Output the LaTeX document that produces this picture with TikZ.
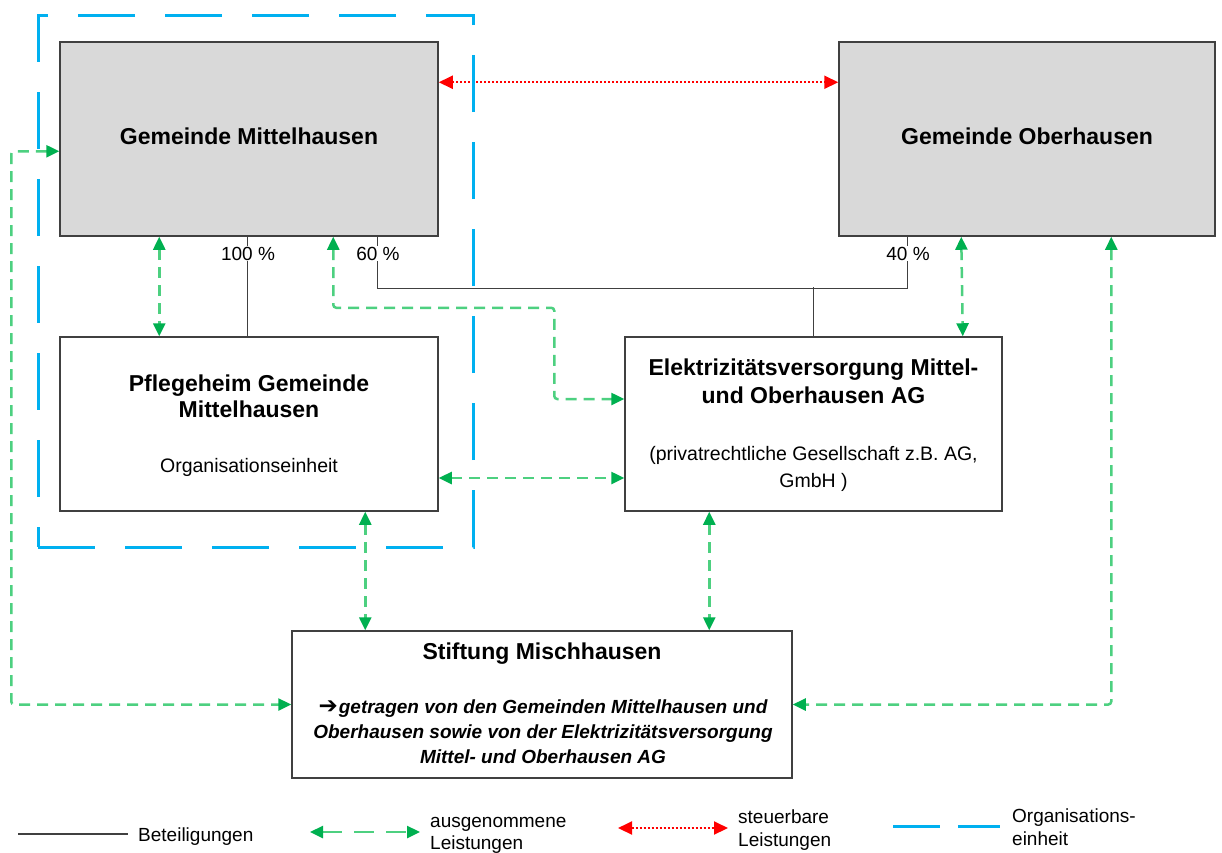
\documentclass[tikz,border=0pt]{standalone}
\usepackage{fontspec}
\setmainfont{Liberation Sans}
\newfontfamily\djv{DejaVu Sans}
\usetikzlibrary{arrows.meta}
\definecolor{boxgray}{HTML}{D9D9D9}
\definecolor{edgegray}{HTML}{404040}
\definecolor{lgreen}{HTML}{4DD080}
\definecolor{dgreen}{HTML}{00B050}
\definecolor{oblue}{HTML}{00B0F0}
\begin{document}
\begin{tikzpicture}[x=1pt,y=-1pt,
 box/.style={draw=edgegray, line width=1.5pt, inner sep=0pt, rectangle},
 gbox/.style={box, fill=boxgray},
 bt/.style={font=\fontsize{23}{28}\selectfont\bfseries, anchor=base, inner sep=0pt},
 rt/.style={font=\fontsize{19.5}{24}\selectfont, anchor=base, inner sep=0pt},
 it/.style={font=\fontsize{19}{24}\selectfont\bfseries\itshape, anchor=base, inner sep=0pt},
 pt/.style={font=\fontsize{19}{24}\selectfont, anchor=base, inner sep=1pt, fill=white},
 lt/.style={font=\fontsize{19}{23}\selectfont, anchor=base west, inner sep=0pt},
 own/.style={line width=1.3pt, draw=edgegray},
 excl/.style={draw=lgreen, line width=2.5pt, dash pattern=on 11pt off 7pt, rounded corners=3pt,
   {Triangle[length=13pt,width=12pt,color=dgreen]}-{Triangle[length=13pt,width=12pt,color=dgreen]}},
 tax/.style={draw=red, line width=2pt, dash pattern=on 2pt off 2pt,
   {Triangle[length=14pt,width=13pt]}-{Triangle[length=14pt,width=13pt]}},
 org/.style={draw=oblue, line width=3pt, dash pattern=on 57pt off 30pt},
]
\useasboundingbox[fill=white] (0,0) rectangle (1222,852);

% boxes
\node[gbox, minimum width=378pt, minimum height=194pt] (mh) at (249,139) {};
\node[gbox, minimum width=376pt, minimum height=194pt] (oh) at (1027,139) {};
\node[box, minimum width=378pt, minimum height=174pt] (pf) at (249,424) {};
\node[box, minimum width=377pt, minimum height=174pt] (ev) at (813.5,424) {};
\node[box, minimum width=500pt, minimum height=147pt] (st) at (542,704.5) {};

% texts
\node[bt] (mhT) at (249,144) {Gemeinde Mittelhausen};
\node[bt] (ohT) at (1027,144) {Gemeinde Oberhausen};
\node[bt] (pfT1) at (249,391) {Pflegeheim Gemeinde};
\node[bt] (pfT2) at (249,417) {Mittelhausen};
\node[rt] (pfT3) at (249,472) {Organisationseinheit};
\node[bt] (evT1) at (813.5,375) {Elektrizitätsversorgung Mittel-};
\node[bt] (evT2) at (813.5,403) {und Oberhausen AG};
\node[rt] (evT3) at (813.5,460) {(privatrechtliche Gesellschaft z.B. AG,};
\node[rt] (evT4) at (813.5,487) {GmbH )};
\node[bt] (stT1) at (542,659) {Stiftung Mischhausen};
\node[it] (stT2) at (543,713) {{\djv\upshape\mdseries\fontsize{23}{24}\selectfont ➔}\hspace{1pt}getragen von den Gemeinden Mittelhausen und};
\node[it] (stT3) at (543,738) {Oberhausen sowie von der Elektrizitätsversorgung};
\node[it] (stT4) at (543,763) {Mittel- und Oberhausen AG};

% ownership lines
\draw[own] ([xshift=188pt]mh.south west) -- ([xshift=188pt]pf.north west);
\draw[own] ([xshift=318pt]mh.south west) -- ++(0,52) -| ([xshift=69pt]oh.south west);
\draw[own] (ev.north) -- ++(0,-49);
\node[pt] (p100) at (248,260) {100 \%};
\node[pt] (p60) at (378,260) {60 \%};
\node[pt] (p40) at (908,260) {40 \%};

% taxable
\draw[tax] ([yshift=-41pt]mh.north east) -- ([yshift=-41pt]oh.north west);

% exempt
\draw[excl] ([xshift=100pt]mh.south west) -- ([xshift=100pt]pf.north west);
\draw[excl] ([xshift=274pt]mh.south west) -- ++(0,71) -| ([xshift=-70pt,yshift=25pt]ev.west) -- ([yshift=25pt]ev.west);
\draw[excl] ([xshift=123pt]oh.south west) -- ([xshift=-40pt]ev.north east);
\draw[excl] ([yshift=-54pt]pf.east) -- ([yshift=-54pt]ev.west);
\draw[excl] ([xshift=306pt]pf.south west) -- ([xshift=74pt]st.north west);
\draw[excl] ([xshift=85pt]ev.south west) -- ([xshift=418pt]st.north west);
\draw[excl] ([yshift=-110pt]mh.north west) -- ++(-48,0) |- (st.west);
\draw[excl] ([xshift=273pt]oh.south west) |- (st.east);

% organisational unit
\node[org, inner sep=0pt, minimum width=435pt, minimum height=532pt] (ou) at (255.5,281) {};

% legend
\coordinate (l1a) at (18,834); \coordinate (l1b) at (128,834);
\draw[own] (l1a) -- (l1b);
\node[lt] (l1t) at (138,841) {Beteiligungen};
\coordinate (l2a) at (310,832); \coordinate (l2b) at (420,832);
\draw[excl, dash pattern=on 20pt off 12pt] (l2a) -- (l2b);
\node[lt] (l2t) at (430,827) {ausgenommene};
\node[lt] (l2u) at (430,849) {Leistungen};
\coordinate (l3a) at (618,828); \coordinate (l3b) at (728,828);
\draw[tax] (l3a) -- (l3b);
\node[lt] (l3t) at (738,823) {steuerbare};
\node[lt] (l3u) at (738,846) {Leistungen};
\coordinate (l4a) at (893,826); \coordinate (l4b) at (1000,826);
\draw[org, dash pattern=on 47pt off 18pt] (l4a) -- (l4b);
\node[lt] (l4t) at (1012,822) {Organisations-};
\node[lt] (l4u) at (1012,845) {einheit};
\end{tikzpicture}
\end{document}
